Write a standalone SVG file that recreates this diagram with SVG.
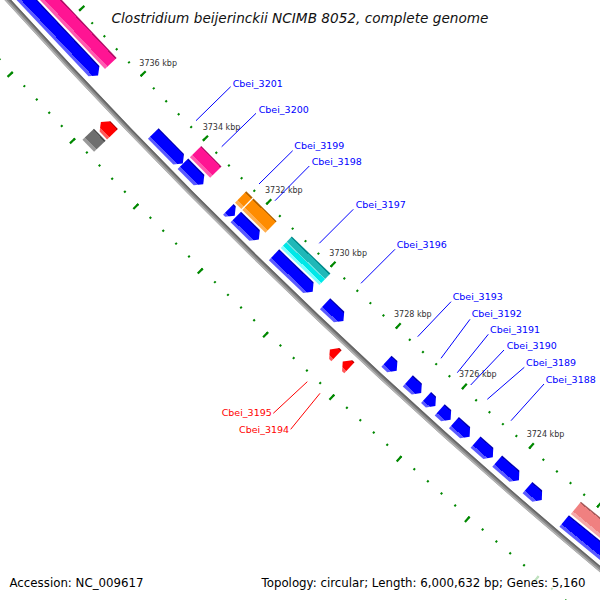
<svg xmlns="http://www.w3.org/2000/svg" width="600" height="600" viewBox="0 0 600 600">
<defs>
<style>
.tk{fill:none;stroke:#008800}
.tl{font-family:"DejaVu Sans",sans-serif;font-size:8px;fill:#333}
.gl{font-family:"DejaVu Sans",sans-serif;font-size:9.5px}
.gb{fill:#0000ff}
.gr{fill:#ff0000}
.lb{stroke:#0000ff;stroke-width:1;fill:none}
.lr{stroke:#ff0000;stroke-width:1;fill:none}
.bt{font-family:"DejaVu Sans",sans-serif;font-size:11.8px;fill:#000}
</style>
<linearGradient id="gB" x1="0" y1="0" x2="1" y2="0">
<stop offset="0" stop-color="#0000b4"/><stop offset="0.09" stop-color="#0000b4"/><stop offset="0.09" stop-color="#0000ff"/><stop offset="0.78" stop-color="#0000ff"/><stop offset="0.78" stop-color="#5a5aff"/><stop offset="1" stop-color="#5a5aff"/>
</linearGradient>
<linearGradient id="gP" x1="0" y1="0" x2="1" y2="0">
<stop offset="0" stop-color="#b40e68"/><stop offset="0.09" stop-color="#b40e68"/><stop offset="0.09" stop-color="#ff1493"/><stop offset="0.78" stop-color="#ff1493"/><stop offset="0.78" stop-color="#ff5aaf"/><stop offset="1" stop-color="#ff5aaf"/>
</linearGradient>
<linearGradient id="gO" x1="0" y1="0" x2="1" y2="0">
<stop offset="0" stop-color="#b46300"/><stop offset="0.09" stop-color="#b46300"/><stop offset="0.09" stop-color="#ff8c00"/><stop offset="0.78" stop-color="#ff8c00"/><stop offset="0.78" stop-color="#ffae4d"/><stop offset="1" stop-color="#ffae4d"/>
</linearGradient>
<linearGradient id="gC" x1="0" y1="0" x2="1" y2="0">
<stop offset="0" stop-color="#008b8b"/><stop offset="0.09" stop-color="#008b8b"/><stop offset="0.09" stop-color="#20b8b8"/><stop offset="0.45" stop-color="#20b8b8"/><stop offset="0.45" stop-color="#66e0e0"/><stop offset="0.52" stop-color="#66e0e0"/><stop offset="0.52" stop-color="#00e8e8"/><stop offset="0.8" stop-color="#00e8e8"/><stop offset="0.8" stop-color="#80ffff"/><stop offset="1" stop-color="#80ffff"/>
</linearGradient>
<linearGradient id="gS" x1="0" y1="0" x2="1" y2="0">
<stop offset="0" stop-color="#a85a5a"/><stop offset="0.09" stop-color="#a85a5a"/><stop offset="0.09" stop-color="#f08080"/><stop offset="0.78" stop-color="#f08080"/><stop offset="0.78" stop-color="#f5a8a8"/><stop offset="1" stop-color="#f5a8a8"/>
</linearGradient>
<linearGradient id="gG" x1="0" y1="0" x2="1" y2="0">
<stop offset="0" stop-color="#4a4a4a"/><stop offset="0.09" stop-color="#4a4a4a"/><stop offset="0.09" stop-color="#6e6e6e"/><stop offset="0.78" stop-color="#6e6e6e"/><stop offset="0.78" stop-color="#999999"/><stop offset="1" stop-color="#999999"/>
</linearGradient>
<linearGradient id="gR" x1="0" y1="0" x2="1" y2="0">
<stop offset="0" stop-color="#b40000"/><stop offset="0.09" stop-color="#b40000"/><stop offset="0.09" stop-color="#ff0000"/><stop offset="0.78" stop-color="#ff0000"/><stop offset="0.78" stop-color="#ff5a5a"/><stop offset="1" stop-color="#ff5a5a"/>
</linearGradient>
</defs>
<rect width="600" height="600" fill="#fff"/>

<g id="ruler">
<g transform="translate(4414.4 -3992.9) rotate(129.4353)">
<path class="tk" d="M5900 0A5900 5900 0 0 1 5824.94 938.13" stroke-width="2.2" stroke-dasharray="2 15.945" stroke-dashoffset="1"/>
<path class="tk" d="M5897.5 0A5897.5 5897.5 0 0 1 5822.47 937.73" stroke-width="7" stroke-dasharray="2.2 87.487" stroke-dashoffset="1.1"/>
<path class="tk" d="M5992.6 0A5992.6 5992.6 0 0 1 5916.36 952.85" stroke-width="2.2" stroke-dasharray="2 16.2267" stroke-dashoffset="1"/>
<path class="tk" d="M5995.1 0A5995.1 5995.1 0 0 1 5918.83 953.25" stroke-width="7" stroke-dasharray="2.2 88.971" stroke-dashoffset="1.1"/>
</g>
<text class="tl" x="139.3" y="65.5">3736 kbp</text>
<text class="tl" x="202.7" y="130">3734 kbp</text>
<text class="tl" x="265" y="192.5">3732 kbp</text>
<text class="tl" x="329.3" y="255.5">3730 kbp</text>
<text class="tl" x="394" y="316.5">3728 kbp</text>
<text class="tl" x="459" y="377.3">3726 kbp</text>
<text class="tl" x="526.7" y="436.7">3724 kbp</text>
</g>

<g id="backbone" transform="translate(4414.4 -3992.9) rotate(129.4353)" fill="none">
<path d="M5946.5 0A5946.5 5946.5 0 0 1 5870.85 945.52" stroke="#8a8a8a" stroke-width="5"/>
<path d="M5944.8 0A5944.8 5944.8 0 0 1 5869.17 945.25" stroke="#666" stroke-width="1.6"/>
<path d="M5948.2 0A5948.2 5948.2 0 0 1 5872.53 945.79" stroke="#b4b4b4" stroke-width="1.6"/>
</g>

<g id="features">
<g id="gene-a">
<rect fill="url(#gP)" transform="translate(4414.4 -3992.9) rotate(136.6936) translate(5900 0)" x="6" y="0" width="16" height="195.2"/>
<polygon fill="url(#gB)" transform="translate(4414.4 -3992.9) rotate(136.6936) translate(5900 0)" points="24,6 31.5,0 39,6 39,195.7 24,195.7"/>
</g>
<g id="gene-b">
<rect fill="url(#gG)" transform="translate(4414.4 -3992.9) rotate(136.1882) translate(5900 0)" x="71" y="0" width="16" height="16.82"/>
<polygon fill="url(#gR)" transform="translate(4414.4 -3992.9) rotate(136.1882) translate(5900 0)" points="54,0 69,0 69,10.77 61.5,16.77 54,10.77"/>
</g>
<g id="Cbei_3201">
<polygon fill="url(#gB)" transform="translate(4414.4 -3992.9) rotate(135.5129) translate(5900 0)" points="24,6 31.5,0 39,6 39,42.17 24,42.17"/>
<text class="gl gb" x="232.7" y="86.8">Cbei_3201</text>
</g>
<g id="Cbei_3200">
<rect fill="url(#gP)" transform="translate(4414.4 -3992.9) rotate(135.2297) translate(5900 0)" x="6" y="0" width="16" height="28.78"/>
<polygon fill="url(#gB)" transform="translate(4414.4 -3992.9) rotate(135.2323) translate(5900 0)" points="24,6 31.5,0 39,6 39,28.82 24,28.82"/>
<text class="gl gb" x="258.7" y="112.5">Cbei_3200</text>
</g>
<g id="Cbei_3199">
<rect fill="url(#gO)" transform="translate(4414.4 -3992.9) rotate(134.8028) translate(5900 0)" x="6" y="0" width="16" height="8.99"/>
<polygon fill="url(#gB)" transform="translate(4414.4 -3992.9) rotate(134.8019) translate(5900 0)" points="24,6 31.5,0 39,6 39,9.02 24,9.02"/>
<text class="gl gb" x="294.3" y="149.2">Cbei_3199</text>
</g>
<g id="Cbei_3198">
<rect fill="url(#gO)" transform="translate(4414.4 -3992.9) rotate(134.4760) translate(5900 0)" x="6" y="0" width="16" height="32.38"/>
<polygon fill="url(#gB)" transform="translate(4414.4 -3992.9) rotate(134.4743) translate(5900 0)" points="24,6 31.5,0 39,6 39,32.29 24,32.29"/>
<text class="gl gb" x="311.7" y="164.8">Cbei_3198</text>
</g>
<g id="Cbei_3197">
<rect fill="url(#gC)" transform="translate(4414.4 -3992.9) rotate(133.7484) translate(5900 0)" x="6" y="0" width="16" height="53.51"/>
<polygon fill="url(#gB)" transform="translate(4414.4 -3992.9) rotate(133.7497) translate(5900 0)" points="24,6 31.5,0 39,6 39,53.58 24,53.58"/>
<text class="gl gb" x="355.7" y="208.2">Cbei_3197</text>
</g>
<g id="Cbei_3196">
<polygon fill="url(#gB)" transform="translate(4414.4 -3992.9) rotate(133.3402) translate(5900 0)" points="24,6 31.5,0 39,6 39,25.26 24,25.26"/>
<text class="gl gb" x="396.7" y="247.5">Cbei_3196</text>
</g>
<g id="Cbei_3195">
<polygon fill="url(#gR)" transform="translate(4414.4 -3992.9) rotate(133.1603) translate(5900 0)" points="54,0 69,0 69,3.07 61.5,9.07 54,3.07"/>
<text class="gl gr" x="221.7" y="415.8">Cbei_3195</text>
</g>
<g id="Cbei_3194">
<polygon fill="url(#gR)" transform="translate(4414.4 -3992.9) rotate(132.9904) translate(5900 0)" points="54,0 69,0 69,3.07 61.5,9.07 54,3.07"/>
<text class="gl gr" x="239" y="432.5">Cbei_3194</text>
</g>
<g id="Cbei_3193">
<polygon fill="url(#gB)" transform="translate(4414.4 -3992.9) rotate(132.6366) translate(5900 0)" points="24,6 31.5,0 39,6 39,13.94 24,13.94"/>
<text class="gl gb" x="452.7" y="300.2">Cbei_3193</text>
</g>
<g id="Cbei_3192">
<polygon fill="url(#gB)" transform="translate(4414.4 -3992.9) rotate(132.3159) translate(5900 0)" points="24,6 31.5,0 39,6 39,18.13 24,18.13"/>
<text class="gl gb" x="471.7" y="316.8">Cbei_3192</text>
</g>
<g id="Cbei_3191">
<polygon fill="url(#gB)" transform="translate(4414.4 -3992.9) rotate(132.1312) translate(5900 0)" points="24,6 31.5,0 39,6 39,12.54 24,12.54"/>
<text class="gl gb" x="490" y="333.2">Cbei_3191</text>
</g>
<g id="Cbei_3190">
<polygon fill="url(#gB)" transform="translate(4414.4 -3992.9) rotate(131.9330) translate(5900 0)" points="24,6 31.5,0 39,6 39,14.66 24,14.66"/>
<text class="gl gb" x="506.7" y="349.2">Cbei_3190</text>
</g>
<g id="Cbei_3189">
<polygon fill="url(#gB)" transform="translate(4414.4 -3992.9) rotate(131.6868) translate(5900 0)" points="24,6 31.5,0 39,6 39,21.02 24,21.02"/>
<text class="gl gb" x="526" y="365.8">Cbei_3189</text>
</g>
<g id="Cbei_3188">
<polygon fill="url(#gB)" transform="translate(4414.4 -3992.9) rotate(131.3871) translate(5900 0)" points="24,6 31.5,0 39,6 39,23 24,23"/>
<text class="gl gb" x="545.7" y="382.5">Cbei_3188</text>
</g>
<g id="gene-c">
<polygon fill="url(#gB)" transform="translate(4414.4 -3992.9) rotate(131.0516) translate(5900 0)" points="24,6 31.5,0 39,6 39,28.86 24,28.86"/>
</g>
<g id="gene-d">
<polygon fill="url(#gB)" transform="translate(4414.4 -3992.9) rotate(130.7597) translate(5900 0)" points="24,6 31.5,0 39,6 39,18.94 24,18.94"/>
</g>
<g id="gene-e">
<rect fill="url(#gS)" transform="translate(4414.4 -3992.9) rotate(129.2175) translate(5900 0)" x="6" y="0" width="16" height="128.2"/>
<polygon fill="url(#gB)" transform="translate(4414.4 -3992.9) rotate(129.2175) translate(5900 0)" points="24,6 31.5,0 39,6 39,129 24,129"/>
</g>
</g>

<g id="connectors">
<path class="lb" d="M196 120.7L230.7 86.7"/>
<path class="lb" d="M221.7 146.7L256 113.3"/>
<path class="lb" d="M259 184L292.7 150.7"/>
<path class="lb" d="M275 200.7L309.3 166"/>
<path class="lb" d="M319.3 243.3L353.3 209.3"/>
<path class="lb" d="M361 283.3L395 249.3"/>
<path class="lb" d="M417.7 336.7L451 301.7"/>
<path class="lb" d="M441 358.3L470 319.3"/>
<path class="lb" d="M457.3 372.7L488.3 334.3"/>
<path class="lb" d="M470.7 385L504 350"/>
<path class="lb" d="M487.3 399.3L524.3 367.3"/>
<path class="lb" d="M511 420.7L544 384"/>
<path class="lr" d="M307.3 381.7L273.3 413.3"/>
<path class="lr" d="M320 393.3L290.7 429.3"/>
</g>

<g id="legend">
<text x="300" y="22.7" text-anchor="middle" font-family="DejaVu Sans, sans-serif" font-style="italic" font-size="13.65" fill="#111">Clostridium beijerinckii NCIMB 8052, complete genome</text>
<rect x="255" y="571" width="341" height="22" fill="#fff" fill-opacity="0.75"/>
<text class="bt" x="9.5" y="587">Accession: NC_009617</text>
<text class="bt" x="261.5" y="587">Topology: circular; Length: 6,000,632 bp; Genes: 5,160</text>
</g>
</svg>
